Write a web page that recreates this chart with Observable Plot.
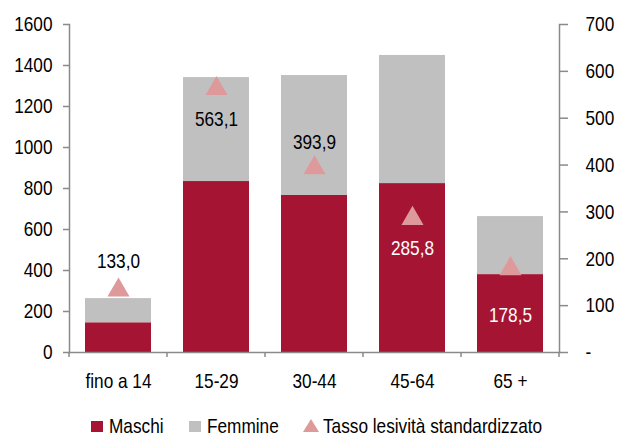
<!DOCTYPE html>
<html>
<head>
<meta charset="utf-8">
<script src="https://cdn.jsdelivr.net/npm/d3@7"></script>
<script src="https://cdn.jsdelivr.net/npm/@observablehq/plot@0.6"></script>
<style>
  html, body { margin: 0; padding: 0; background: #fff; }
  body { width: 622px; height: 437px; overflow: hidden; font-family: "Liberation Sans", Arial, sans-serif; }
  #legend { height: 40px; display: flex; align-items: center; justify-content: center; font-size: 21px; color: #000; margin-left: 12px; }
  .item { display: flex; align-items: center; margin-right: 25px; }
  .item:last-child { margin-right: 0; }
  .item span { display: inline-block; transform: scaleX(0.82); transform-origin: left center; white-space: nowrap; }
  .sw { width: 12px; height: 11px; margin-right: 6px; }
  .tri { width: 0; height: 0; border-left: 8px solid transparent; border-right: 8px solid transparent; border-bottom: 13px solid #DE9A9A; margin-right: 4px; margin-top: -2px; }
</style>
</head>
<body>
<div id="chart"></div>
<div id="legend"></div>
<script>
const categories = ["fino a 14", "15-29", "30-44", "45-64", "65 +"];
const maschi = [145, 834, 766, 824, 380];
const femmine = [118, 507, 585, 625, 283];
const tasso = [133.0, 563.1, 393.9, 285.8, 178.5];
const leftTicks = [0, 200, 400, 600, 800, 1000, 1200, 1400, 1600];
const rightTicks = [0, 100, 200, 300, 400, 500, 600, 700];
const seriesNames = ["Maschi", "Femmine", "Tasso lesività standardizzato"];

const colors = { Maschi: "#A51533", Femmine: "#C0C0C0", tri: "#DE9A9A" };
const axisColor = "#8A8A8A";
const k = 1600 / 700;
const FONT = "'Liberation Sans', Arial, sans-serif";
const FS = 21;
const NARROW = 0.82;

const bars = [];
categories.forEach((c, i) => {
  bars.push({ age: c, sex: "Maschi", value: maschi[i] });
  bars.push({ age: c, sex: "Femmine", value: femmine[i] });
});
const rates = categories.map((c, i) => ({ age: c, rate: tasso[i] }));

const labelStyle = {
  "fino a 14": { dy: -29, fill: "#000" },
  "15-29": { dy: 31, fill: "#000" },
  "30-44": { dy: -26, fill: "#000" },
  "45-64": { dy: 30, fill: "#fff" },
  "65 +": { dy: 46, fill: "#fff" }
};

const W = 622, H = 406, mL = 69, mR = 63, mT = 24, mB = 54;

const boundaryTicks = (index, scales, values, dims) => {
  const g = d3.create("svg:g");
  const n = categories.length;
  const step = (dims.width - dims.marginLeft - dims.marginRight) / n;
  const y0 = dims.height - dims.marginBottom;
  for (let i = 0; i <= n; i++) {
    const x = dims.marginLeft + i * step;
    g.append("line").attr("x1", x).attr("x2", x).attr("y1", y0).attr("y2", y0 + 5)
      .attr("stroke", axisColor).attr("stroke-width", 1.5);
  }
  return g.node();
};

const labelMarks = categories.map(c => Plot.text(rates.filter(d => d.age === c), {
  x: "age", y: d => d.rate * k,
  text: d => d.rate.toFixed(1).replace(".", ","),
  dy: labelStyle[c].dy, fill: labelStyle[c].fill,
  fontSize: FS
}));

const chart = Plot.plot({
  width: W, height: H,
  marginLeft: mL, marginRight: mR, marginTop: mT, marginBottom: mB,
  style: { fontFamily: FONT, fontSize: FS + "px", color: "#000", background: "#fff" },
  x: { domain: categories, paddingInner: 0.33, paddingOuter: 0.165, axis: null },
  y: { domain: [0, 1600], axis: null },
  color: { domain: ["Maschi", "Femmine"], range: [colors.Maschi, colors.Femmine] },
  marks: [
    Plot.barY(bars, { x: "age", y: "value", fill: "sex" }),
    Plot.dot(rates, { x: "age", y: d => d.rate * k, symbol: "triangle", r: 8.2, fill: colors.tri, stroke: null }),
    ...labelMarks,
    Plot.frame({ anchor: "left", stroke: axisColor, strokeWidth: 1.5 }),
    Plot.frame({ anchor: "right", stroke: axisColor, strokeWidth: 1.5 }),
    Plot.frame({ anchor: "bottom", stroke: axisColor, strokeWidth: 1.5 }),
    Plot.axisY({ anchor: "left", ticks: leftTicks, tickSize: 6, tickPadding: 11, stroke: axisColor, strokeWidth: 1.5, label: null, tickFormat: d => String(d), fill: "#000", fontSize: FS }),
    Plot.axisY({ anchor: "right", ticks: rightTicks.map(v => v * k), tickSize: 8, tickPadding: 18, stroke: axisColor, strokeWidth: 1.5, label: null, tickFormat: d => { const v = Math.round(d / k); return v === 0 ? "-" : String(v); }, fill: "#000", fontSize: FS }),
    Plot.axisX({ anchor: "bottom", tickSize: 0, tickPadding: 21, label: null, fill: "#000", fontSize: FS }),
    boundaryTicks
  ]
});
document.getElementById("chart").appendChild(chart);

// condense all SVG text horizontally around its anchor (Arial Narrow look)
chart.querySelectorAll("text").forEach(t => {
  const x = parseFloat(t.getAttribute("x")) || 0;
  const tr = t.getAttribute("transform") || "";
  t.setAttribute("transform", `${tr} translate(${x},0) scale(${NARROW},1) translate(${-x},0)`.trim());
});

const legend = document.getElementById("legend");
seriesNames.forEach((name, i) => {
  const it = document.createElement("div");
  it.className = "item";
  const sw = document.createElement("div");
  if (i < 2) { sw.className = "sw"; sw.style.background = colors[name]; }
  else { sw.className = "tri"; }
  const t = document.createElement("span");
  t.textContent = name;
  it.appendChild(sw); it.appendChild(t);
  legend.appendChild(it);
});
legend.querySelectorAll(".item span").forEach(s => {
  s.style.marginRight = (-(1 - NARROW) * s.offsetWidth) + "px";
});
</script>
</body>
</html>
